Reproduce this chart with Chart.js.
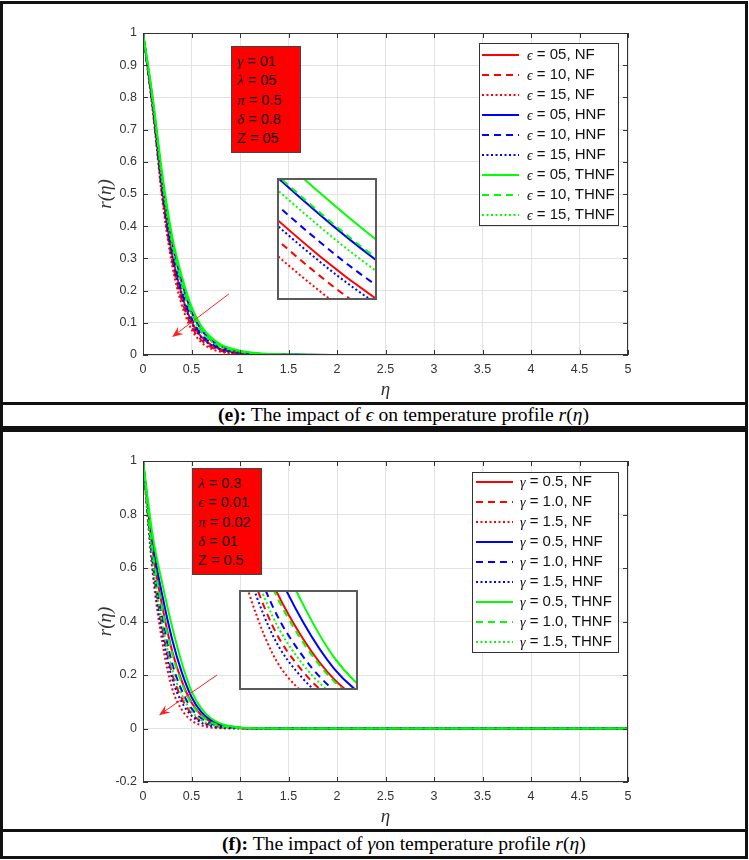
<!DOCTYPE html>
<html>
<head>
<meta charset="utf-8">
<script src="https://cdn.jsdelivr.net/npm/chart.js@4.4.1/dist/chart.umd.min.js"></script>
<style>
body { margin:0; width:749px; height:860px; position:relative; background:#fff; overflow:hidden; font-family:"Liberation Sans", Arial, sans-serif; }
.panel { position:absolute; left:0; width:748px; box-sizing:border-box; border:3px solid #111; }
.sep { position:absolute; left:0; width:748px; height:3px; background:#111; }
.cap { position:absolute; font-family:"Liberation Serif","Times New Roman",serif; font-size:19.6px; line-height:20px; color:#000; white-space:nowrap; }
.pbox { position:absolute; background:#ff0000; border:1px solid #444; box-sizing:border-box; font-size:14.5px; color:#111; padding:4px 0 0 5px; }
.pbox div { height:19.4px; line-height:19.4px; white-space:nowrap; }
.g { font-family:"Liberation Serif", serif; font-style:italic; font-size:15.5px; }
.inset { position:absolute; border:2px solid #5a5a5a; box-sizing:border-box; }
canvas { position:absolute; left:0; }
</style>
</head>
<body>
<div class="panel" style="top:1px;height:428px"></div>
<div class="sep" style="top:402px"></div>
<div class="panel" style="top:429px;height:430px"></div>
<div class="sep" style="top:829px"></div>

<canvas id="chartE" width="749" height="400" style="top:0"></canvas>
<canvas id="chartF" width="749" height="400" style="top:430px"></canvas>

<div class="pbox" style="left:231px;top:46px;width:70px;height:107px">
  <div><span class="g">γ</span> = 01</div>
  <div><span class="g">λ</span> = 05</div>
  <div><span class="g">π</span> = 0.5</div>
  <div><span class="g">δ</span> = 0.8</div>
  <div>Z = 05</div>
</div>
<div class="pbox" style="left:192px;top:468px;width:70px;height:107px">
  <div><span class="g">λ</span> = 0.3</div>
  <div><span class="g">ϵ</span> = 0.01</div>
  <div><span class="g">π</span> = 0.02</div>
  <div><span class="g">δ</span> = 01</div>
  <div>Z = 0.5</div>
</div>

<div class="inset" style="left:277px;top:178px;width:100px;height:122px"><canvas id="insetE" width="96" height="118" style="top:0"></canvas></div>
<div class="inset" style="left:239px;top:590px;width:119px;height:100px"><canvas id="insetF" width="115" height="96" style="top:0"></canvas></div>

<div class="cap" style="left:218px;top:405px"><b>(e):</b> The impact of <i>ϵ</i> on temperature profile <i>r</i>(<i>η</i>)</div>
<div class="cap" style="left:222px;top:834px"><b>(f):</b> The impact of <i>γ</i>on temperature profile <i>r</i>(<i>η</i>)</div>

<script>
// eta grid shared by every curve
const eta = [0, 0.1, 0.2, 0.3, 0.4, 0.5, 0.6, 0.7, 0.8, 1.0, 1.2, 1.5, 2, 3, 5];

// (e) effect of epsilon
const epsLabels = ['ϵ = 05, NF', 'ϵ = 10, NF', 'ϵ = 15, NF',
                   'ϵ = 05, HNF', 'ϵ = 10, HNF', 'ϵ = 15, HNF',
                   'ϵ = 05, THNF', 'ϵ = 10, THNF', 'ϵ = 15, THNF'];
const epsNF05   = [1, 0.774, 0.508, 0.312, 0.187, 0.104, 0.057, 0.032, 0.018, 0.0065, 0.0024, 0.0006, 0.0001, 0, 0];
const epsNF10   = [1, 0.766, 0.492, 0.294, 0.169, 0.090, 0.047, 0.025, 0.013, 0.0045, 0.0016, 0.0004, 0, 0, 0];
const epsNF15   = [1, 0.760, 0.480, 0.280, 0.155, 0.080, 0.040, 0.020, 0.010, 0.003, 0.001, 0.0002, 0, 0, 0];
const epsHNF05  = [1, 0.791, 0.542, 0.350, 0.225, 0.134, 0.079, 0.047, 0.028, 0.011, 0.0041, 0.0012, 0.0002, 0, 0];
const epsHNF10  = [1, 0.780, 0.520, 0.325, 0.200, 0.115, 0.065, 0.038, 0.022, 0.008, 0.003, 0.0008, 0.0001, 0, 0];
const epsHNF15  = [1, 0.772, 0.504, 0.307, 0.182, 0.101, 0.055, 0.031, 0.017, 0.006, 0.0022, 0.0006, 0.0001, 0, 0];
const epsTHNF05 = [1, 0.800, 0.560, 0.370, 0.245, 0.150, 0.090, 0.055, 0.033, 0.013, 0.005, 0.0015, 0.0002, 0, 0];
const epsTHNF10 = [1, 0.792, 0.544, 0.352, 0.227, 0.136, 0.080, 0.048, 0.028, 0.011, 0.0042, 0.0012, 0.0002, 0, 0];
const epsTHNF15 = [1, 0.786, 0.532, 0.339, 0.214, 0.126, 0.072, 0.043, 0.025, 0.0095, 0.0036, 0.001, 0.0001, 0, 0];

// (f) effect of gamma
const gamLabels = ['γ = 0.5, NF', 'γ = 1.0, NF', 'γ = 1.5, NF',
                   'γ = 0.5, HNF', 'γ = 1.0, HNF', 'γ = 1.5, HNF',
                   'γ = 0.5, THNF', 'γ = 1.0, THNF', 'γ = 1.5, THNF'];
const gamNF05   = [1, 0.665, 0.454, 0.290, 0.177, 0.097, 0.050, 0.025, 0.011, 0.0025, 0.0006, 0, 0, 0, 0];
const gamNF10   = [1, 0.614, 0.373, 0.205, 0.112, 0.056, 0.027, 0.012, 0.005, 0.001, 0.0002, 0, 0, 0, 0];
const gamNF15   = [1, 0.580, 0.320, 0.150, 0.070, 0.030, 0.012, 0.004, 0.001, 0, 0, 0, 0, 0, 0];
const gamHNF05  = [1, 0.692, 0.496, 0.334, 0.210, 0.118, 0.062, 0.031, 0.015, 0.003, 0.0008, 0, 0, 0, 0];
const gamHNF10  = [1, 0.637, 0.410, 0.244, 0.142, 0.075, 0.038, 0.018, 0.008, 0.0017, 0.0004, 0, 0, 0, 0];
const gamHNF15  = [1, 0.602, 0.355, 0.187, 0.098, 0.048, 0.022, 0.009, 0.004, 0.0007, 0.0002, 0, 0, 0, 0];
const gamTHNF05 = [1, 0.720, 0.540, 0.380, 0.245, 0.140, 0.075, 0.038, 0.018, 0.004, 0.001, 0, 0, 0, 0];
const gamTHNF10 = [1, 0.660, 0.445, 0.281, 0.170, 0.093, 0.048, 0.023, 0.011, 0.0023, 0.0006, 0, 0, 0, 0];
const gamTHNF15 = [1, 0.625, 0.390, 0.224, 0.126, 0.065, 0.032, 0.015, 0.006, 0.0013, 0.0003, 0, 0, 0, 0];

const epsSeries = [epsNF05, epsNF10, epsNF15, epsHNF05, epsHNF10, epsHNF15, epsTHNF05, epsTHNF10, epsTHNF15];
const gamSeries = [gamNF05, gamNF10, gamNF15, gamHNF05, gamHNF10, gamHNF15, gamTHNF05, gamTHNF10, gamTHNF15];

const colors = ['#ff0000', '#0000ff', '#00ff00'];  // NF, HNF, THNF
const dashes = [[], [7, 5], [2, 2.5]];             // solid, dashed, dotted

function makeSets(labels, series) {
    return series.map((vals, i) => ({
        label: labels[i],
        data: eta.map((x, k) => ({ x: x, y: vals[k] })),
        borderColor: colors[Math.floor(i / 3)],
        borderDash: dashes[i % 3],
        borderWidth: 2,
        pointRadius: 0,
        cubicInterpolationMode: 'monotone',
        order: 9 - i
    }));
}

// matlab style tick text: 0, 0.5, 1, -0.2
function tickText(v) {
    const r = Math.round(v * 10) / 10;
    return r === 0 ? '0' : String(r);
}

// box, inward ticks, arrow, axis titles and legend
const framePlugin = {
    id: 'frame',
    afterDraw(chart, args, opts) {
        const ctx = chart.ctx;
        const a = chart.chartArea;
        const xs = chart.scales.x, ys = chart.scales.y;
        ctx.save();

        ctx.strokeStyle = '#333';
        ctx.lineWidth = 1;
        ctx.strokeRect(a.left + 0.5, a.top + 0.5, a.width - 1, a.height - 1);
        ctx.beginPath();
        xs.ticks.forEach(t => {
            const p = Math.round(xs.getPixelForValue(t.value)) + 0.5;
            ctx.moveTo(p, a.bottom); ctx.lineTo(p, a.bottom - 5);
            ctx.moveTo(p, a.top); ctx.lineTo(p, a.top + 5);
        });
        ys.ticks.forEach(t => {
            const p = Math.round(ys.getPixelForValue(t.value)) + 0.5;
            ctx.moveTo(a.left, p); ctx.lineTo(a.left + 5, p);
            ctx.moveTo(a.right, p); ctx.lineTo(a.right - 5, p);
        });
        ctx.stroke();

        // red arrow, ends given in data units
        const x0 = xs.getPixelForValue(opts.arrow[0]), y0 = ys.getPixelForValue(opts.arrow[1]);
        const x1 = xs.getPixelForValue(opts.arrow[2]), y1 = ys.getPixelForValue(opts.arrow[3]);
        const ang = Math.atan2(y1 - y0, x1 - x0);
        ctx.strokeStyle = '#ff2020';
        ctx.fillStyle = '#ff2020';
        ctx.lineWidth = 1;
        ctx.beginPath();
        ctx.moveTo(x0, y0);
        ctx.lineTo(x1 - 6 * Math.cos(ang), y1 - 6 * Math.sin(ang));
        ctx.stroke();
        ctx.beginPath();
        ctx.moveTo(x1, y1);
        ctx.lineTo(x1 - 11 * Math.cos(ang) + 4.5 * Math.sin(ang), y1 - 11 * Math.sin(ang) - 4.5 * Math.cos(ang));
        ctx.lineTo(x1 - 7 * Math.cos(ang), y1 - 7 * Math.sin(ang));
        ctx.lineTo(x1 - 11 * Math.cos(ang) - 4.5 * Math.sin(ang), y1 - 11 * Math.sin(ang) + 4.5 * Math.cos(ang));
        ctx.closePath();
        ctx.fill();

        // axis titles
        ctx.fillStyle = '#333';
        ctx.font = 'italic 19px "Liberation Serif"';
        ctx.textAlign = 'center';
        ctx.textBaseline = 'middle';
        ctx.fillText('η', (a.left + a.right) / 2, a.bottom + 35);
        ctx.translate(a.left - 37, (a.top + a.bottom) / 2);
        ctx.rotate(-Math.PI / 2);
        ctx.fillText('r(η)', 0, 0);
        ctx.setTransform(1, 0, 0, 1, 0, 0);

        // legend
        const lg = opts.legend;
        ctx.fillStyle = '#fff';
        ctx.fillRect(lg.box[0], lg.box[1], lg.box[2], lg.box[3]);
        ctx.strokeStyle = '#333';
        ctx.lineWidth = 1;
        ctx.strokeRect(lg.box[0] + 0.5, lg.box[1] + 0.5, lg.box[2], lg.box[3]);
        ctx.textAlign = 'left';
        chart.data.datasets.forEach((ds, i) => {
            const y = lg.y0 + i * lg.step;
            ctx.strokeStyle = ds.borderColor;
            ctx.lineWidth = 2;
            ctx.setLineDash(ds.borderDash);
            ctx.beginPath();
            ctx.moveTo(lg.line[0], y); ctx.lineTo(lg.line[1], y);
            ctx.stroke();
            ctx.setLineDash([]);
            ctx.fillStyle = '#111';
            ctx.font = 'italic 14px "Liberation Serif"';
            const sym = ds.label.charAt(0);
            ctx.fillText(sym, lg.textX, y + 1);
            const w = ctx.measureText(sym).width;
            ctx.font = '15px "Liberation Sans"';
            ctx.fillText(ds.label.slice(1), lg.textX + w, y);
        });
        ctx.restore();
    }
};

function mainChart(id, sets, yMin, yStep, opts) {
    const tickFont = { size: 12.5, family: '"Liberation Sans"' };
    return new Chart(document.getElementById(id), {
        type: 'line',
        data: { datasets: sets },
        options: {
            responsive: false,
            animation: false,
            devicePixelRatio: 1,
            layout: { padding: { top: opts.padTop, right: 121, left: 0, bottom: 0 } },
            plugins: { legend: { display: false }, tooltip: { enabled: false }, frame: opts },
            scales: {
                x: {
                    type: 'linear', min: 0, max: 5,
                    ticks: { stepSize: 0.5, padding: 7, color: '#333', font: tickFont, maxRotation: 0, autoSkip: false, callback: tickText },
                    grid: { color: '#e3e3e3', drawTicks: false },
                    border: { display: false },
                    afterFit(s) { s.height = opts.xAxisH; }
                },
                y: {
                    min: yMin, max: 1,
                    ticks: { stepSize: yStep, padding: 6, color: '#333', font: tickFont, autoSkip: false, callback: tickText },
                    grid: { color: '#e3e3e3', drawTicks: false },
                    border: { display: false },
                    afterFit(s) { s.width = 143; }
                }
            }
        },
        plugins: [framePlugin]
    });
}

function insetChart(id, sets, xr, yr) {
    return new Chart(document.getElementById(id), {
        type: 'line',
        data: { datasets: sets },
        options: {
            responsive: false,
            animation: false,
            devicePixelRatio: 1,
            layout: { padding: 0 },
            plugins: { legend: { display: false }, tooltip: { enabled: false } },
            scales: {
                x: { type: 'linear', display: false, min: xr[0], max: xr[1] },
                y: { display: false, min: yr[0], max: yr[1] }
            }
        }
    });
}

mainChart('chartE', makeSets(epsLabels, epsSeries), 0, 0.1, {
    padTop: 33, xAxisH: 45,
    arrow: [0.887, 0.19, 0.30, 0.056],
    legend: { box: [479, 43, 139, 182], y0: 55, step: 20, line: [482, 519], textX: 527 }
});
mainChart('chartF', makeSets(gamLabels, gamSeries), -0.2, 0.2, {
    padTop: 31, xAxisH: 48,
    arrow: [0.763, 0.2, 0.165, 0.05],
    legend: { box: [472, 42, 146, 180], y0: 52, step: 20, line: [476, 513], textX: 520 }
});

insetChart('insetE', makeSets(epsLabels, epsSeries), [0.37, 0.44], [0.149, 0.257]);
insetChart('insetF', makeSets(gamLabels, gamSeries), [0.2, 0.57], [0.08, 0.27]);
</script>
</body>
</html>
